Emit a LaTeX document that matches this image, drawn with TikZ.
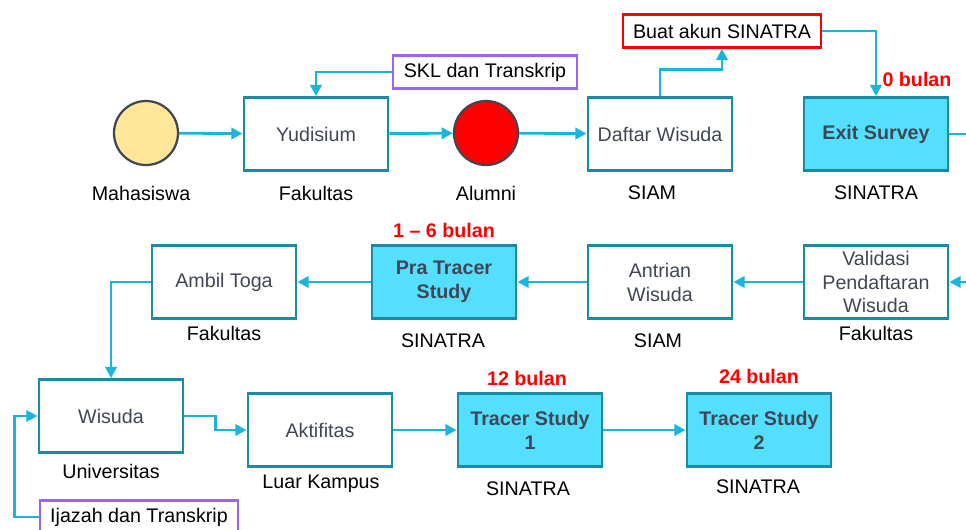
\documentclass[tikz,border=0pt]{standalone}
\usepackage{fontspec}
\setmainfont{Liberation Sans}
\usetikzlibrary{arrows.meta}
\definecolor{boxline}{HTML}{1B8BA5}
\definecolor{flow}{HTML}{1BB4DD}
\definecolor{survey}{HTML}{55DFFE}
\definecolor{boxtext}{HTML}{404654}
\definecolor{note}{HTML}{9C63F6}
\definecolor{dot}{HTML}{FFE699}
\begin{document}
\begin{tikzpicture}[x=0.025cm, y=-0.025cm, font=\fontsize{14}{17}\selectfont,
    proc/.style={draw=boxline, line width=2pt, minimum width=3.6cm, minimum height=1.82cm, text=boxtext, align=center, inner sep=2pt},
    track/.style={proc, fill=survey, font=\fontsize{14}{17}\selectfont\bfseries},
    tag/.style={draw, line width=2pt, minimum height=0.82cm, inner sep=2pt},
    state/.style={circle, draw=boxtext, line width=1.6pt, minimum size=1.6cm},
    flowarrow/.style={-{Triangle[length=8pt,width=8pt]}, draw=flow, line width=2pt},
    time/.style={text=red, font=\fontsize{14}{17}\selectfont\bfseries}]
    \useasboundingbox (0,0) rectangle (966,529);
    \clip (0,0) rectangle (966,529);

    % First row
    \node[state, fill=dot] (mhs) at (146,133) {};
    \node[proc] (yud) at (316,134) {Yudisium};
    \node[state, fill=red] (alm) at (486,133) {};
    \node[proc] (daftar) at (660,134) {Daftar Wisuda};
    \node[track] (exit) at (876,134) {Exit Survey};
    \node (mhsL) at (141,193) {Mahasiswa};
    \node (yudL) at (316,193) {Fakultas};
    \node (almL) at (486,193) {Alumni};
    \node (daftarL) at (652,193) {SIAM};
    \node (exitL) at (876,193) {SINATRA};
    \node[tag, draw=note, minimum width=4.6cm] (skl) at (485,72) {SKL dan Transkrip};
    \node[tag, draw=red, minimum width=4.95cm] (akun) at (722,31) {Buat akun SINATRA};
    \node[time] (t0) at (917,79) {0 bulan};
    \coordinate (exitout) at (980,134);

    % Second row
    \node[proc] (valid) at (876,282) {Validasi\\Pendaftaran\\Wisuda};
    \node[proc] (antri) at (660,282) {Antrian\\Wisuda};
    \node[track] (pra) at (444,282) {Pra Tracer\\Study};
    \node[proc] (toga) at (224,282) {Ambil Toga};
    \node (validL) at (876,333) {Fakultas};
    \node (antriL) at (658,341) {SIAM};
    \node (praL) at (443,341) {SINATRA};
    \node (togaL) at (224,333) {Fakultas};
    \node[time] (t16) at (444,230) {1 -- 6 bulan};
    \coordinate (validin) at (980,282);

    % Third row
    \node[proc] (wis) at (111,416) {Wisuda};
    \node[proc] (akt) at (320,430) {Aktifitas};
    \node[track] (ts1) at (530,430) {Tracer Study\\1};
    \node[track] (ts2) at (759,430) {Tracer Study\\2};
    \node (wisL) at (111,471) {Universitas};
    \node (aktL) at (321,484) {Luar Kampus};
    \node (ts1L) at (528,489) {SINATRA};
    \node (ts2L) at (758,487) {SINATRA};
    \node[time] (t12) at (527,378) {12 bulan};
    \node[time] (t24) at (759,376) {24 bulan};
    \node[tag, draw=note, minimum width=4.95cm] (ijz) at (139,517) {Ijazah dan Transkrip};

    % Connectors
    \draw[flowarrow] (mhs) -- (yud);
    \draw[flowarrow] (yud) -- (alm);
    \draw[flowarrow] (alm) -- (daftar);
    \draw[flowarrow] (skl.west) -| (yud.north);
    \draw[flowarrow] (daftar.north) -- ++(0,-27) -| (akun.south);
    \draw[flowarrow] (akun.east) -| (exit.north);
    \draw[flow, line width=2pt] (exit.east) -- (exitout);
    \draw[flowarrow] (validin) -- (valid.east);
    \draw[flowarrow] (valid) -- (antri);
    \draw[flowarrow] (antri) -- (pra);
    \draw[flowarrow] (pra) -- (toga);
    \draw[flowarrow] (toga.west) -| (wis.north);
    \draw[flowarrow] (wis.east) -- ++(31,0) |- (akt.west);
    \draw[flowarrow] (akt) -- (ts1);
    \draw[flowarrow] (ts1) -- (ts2);
    \draw[flowarrow] (ijz.west) -- ++(-24,0) |- (wis.west);
\end{tikzpicture}
\end{document}
